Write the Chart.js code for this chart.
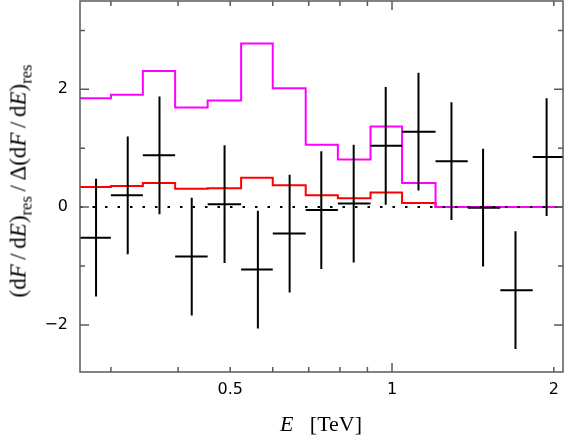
<!DOCTYPE html>
<html>
<head>
<meta charset="utf-8">
<script src="https://cdn.jsdelivr.net/npm/chart.js@4/dist/chart.umd.min.js"></script>
<style>
  html, body { margin: 0; padding: 0; background: #fff; }
  #wrap { position: relative; width: 565px; height: 437px; overflow: hidden; }
  #c { position: absolute; left: 0; top: 0; }
  .ttl { position: absolute; font-family: "Liberation Serif", "DejaVu Serif", serif; color: #000; white-space: nowrap; line-height: 1; }
  .ttl sub { font-size: 0.72em; vertical-align: -0.35em; line-height: 0; }
  .ttl .sl { margin: 0 0.2em; }
  #ytitle { left: 18px; top: 181px; font-size: 23px; transform: translate(-50%, -50%) rotate(-90deg); }
  #xtitle { left: 321px; top: 424px; font-size: 22px; transform: translate(-50%, -50%); }
</style>
</head>
<body>
<div id="wrap">
  <canvas id="c" width="565" height="437"></canvas>
  <div class="ttl" id="ytitle">(d<i>F</i><span class="sl">/</span>d<i>E</i>)<sub>res</sub><span class="sl">/</span>Δ(d<i>F</i><span class="sl">/</span>d<i>E</i>)<sub>res</sub></div>
  <div class="ttl" id="xtitle"><i>E</i>&nbsp;&nbsp;&nbsp;[TeV]</div>
</div>
<script>
// ---- data ----
const binEdges   = [0.261, 0.300, 0.344, 0.395, 0.454, 0.524, 0.600, 0.691, 0.793, 0.912, 1.044, 1.205, 1.383, 1.590, 1.827, 2.097];
const energies   = [0.2815, 0.3224, 0.3694, 0.4241, 0.4881, 0.5630, 0.6450, 0.7387, 0.8486, 0.9734, 1.120, 1.290, 1.477, 1.697, 1.939];
const residuals  = [-0.52, 0.20, 0.88, -0.84, 0.05, -1.06, -0.45, -0.05, 0.06, 1.04, 1.28, 0.78, -0.01, -1.41, 0.85];
const errors     = [1, 1, 1, 1, 1, 1, 1, 1, 1, 1, 1, 1, 1, 1, 1];
const magentaModel = [1.85, 1.91, 2.31, 1.69, 1.81, 2.78, 2.02, 1.06, 0.81, 1.37, 0.41, 0, 0, 0, 0];
const redModel     = [0.34, 0.36, 0.41, 0.31, 0.32, 0.50, 0.37, 0.20, 0.15, 0.25, 0.07, 0, 0, 0, 0];
const xTickValues = [0.3, 0.4, 0.5, 0.6, 0.7, 0.8, 0.9, 1, 2];
const xTickLabels = {0.5: "0.5", 1: "1", 2: "2"};
const xMajorTicks = [1];
const yTickValues = [-2, -1, 0, 1, 2, 3];
const yTickLabels = {"-2": "\u22122", "0": "0", "2": "2"};
const yMajorTicks = [-2, 0, 2];
const xRange = [0.2628, 2.080];
const yRange = [-2.8, 3.5];

// ---- build library datasets ----
function stepData(vals) {
  const d = vals.map((v, i) => ({x: binEdges[i], y: v}));
  d.push({x: binEdges[vals.length], y: vals[vals.length - 1]});
  return d;
}
const crossData = [];
energies.forEach((e, i) => {
  crossData.push({x: binEdges[i], y: residuals[i]});
  crossData.push({x: binEdges[i + 1], y: residuals[i]});
  crossData.push({x: binEdges[i + 1], y: null});
  crossData.push({x: e, y: residuals[i] - errors[i]});
  crossData.push({x: e, y: residuals[i] + errors[i]});
  crossData.push({x: e, y: null});
});

const frameColor = '#5a5a5a';
const framePlugin = {
  id: 'frame',
  afterDraw(chart) {
    const {ctx, chartArea: a, scales} = chart;
    ctx.save();
    ctx.strokeStyle = frameColor;
    ctx.lineWidth = 1.5;
    ctx.strokeRect(a.left, a.top, a.right - a.left, a.bottom - a.top);
    ctx.beginPath();
    xTickValues.forEach(v => {
      const px = scales.x.getPixelForValue(v);
      const len = xMajorTicks.includes(v) ? 9 : 5;
      ctx.moveTo(px, a.bottom); ctx.lineTo(px, a.bottom - len);
      ctx.moveTo(px, a.top); ctx.lineTo(px, a.top + len);
    });
    yTickValues.forEach(v => {
      const py = scales.y.getPixelForValue(v);
      const len = yMajorTicks.includes(v) ? 9 : 5;
      ctx.moveTo(a.left, py); ctx.lineTo(a.left + len, py);
      ctx.moveTo(a.right, py); ctx.lineTo(a.right - len, py);
    });
    ctx.stroke();
    ctx.restore();
  }
};

new Chart(document.getElementById('c'), {
  type: 'line',
  data: {
    datasets: [
      { label: 'data', data: crossData, borderColor: '#000', borderWidth: 2, pointRadius: 0, spanGaps: false, fill: false, order: 0 },
      { label: 'zero', data: [{x: xRange[0], y: 0}, {x: xRange[1], y: 0}], borderColor: '#000', borderWidth: 2, borderDash: [2.5, 10], pointRadius: 0, fill: false, order: 1 },
      { label: 'model A', data: stepData(magentaModel), stepped: 'before', borderColor: '#ff00ff', borderWidth: 2, pointRadius: 0, fill: false, order: 2 },
      { label: 'model B', data: stepData(redModel), stepped: 'before', borderColor: '#ff0000', borderWidth: 2, pointRadius: 0, fill: false, order: 3 }
    ]
  },
  options: {
    responsive: false,
    animation: false,
    layout: { padding: { top: 1, right: 2, left: 0, bottom: 0 } },
    plugins: { legend: { display: false }, tooltip: { enabled: false } },
    scales: {
      x: {
        type: 'logarithmic',
        min: xRange[0], max: xRange[1],
        grid: { display: false, drawTicks: false },
        border: { display: false },
        afterBuildTicks: s => { s.ticks = xTickValues.map(v => ({value: v})); },
        afterFit: s => { s.height = 65; s.paddingLeft = 0; s.paddingRight = 0; },
        ticks: {
          autoSkip: false, maxRotation: 0, padding: 8, color: '#000',
          font: { family: 'DejaVu Sans', size: 16 },
          callback: v => xTickLabels[v] !== undefined ? xTickLabels[v] : ''
        }
      },
      y: {
        type: 'linear',
        min: yRange[0], max: yRange[1],
        grid: { display: false, drawTicks: false },
        border: { display: false },
        afterBuildTicks: s => { s.ticks = yTickValues.map(v => ({value: v})); },
        afterFit: s => { s.width = 80; s.paddingTop = 0; s.paddingBottom = 0; },
        ticks: {
          autoSkip: false, padding: 12, color: '#000',
          font: { family: 'DejaVu Sans', size: 16 },
          callback: v => yTickLabels[String(v)] !== undefined ? yTickLabels[String(v)] : ''
        }
      }
    }
  },
  plugins: [framePlugin]
});
</script>
</body>
</html>
